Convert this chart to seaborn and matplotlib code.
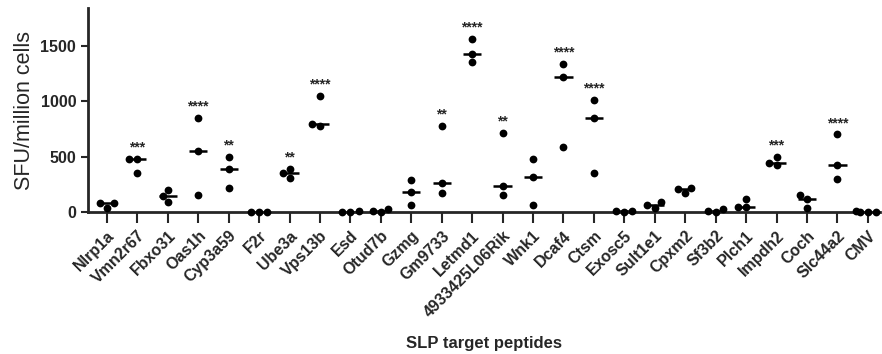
import numpy as np
import pandas as pd
import matplotlib
matplotlib.use('Agg')
import matplotlib.pyplot as plt
import seaborn as sns

peptides = ['Nlrp1a', 'Vmn2r67', 'Fbxo31', 'Oas1h', 'Cyp3a59', 'F2r', 'Ube3a',
            'Vps13b', 'Esd', 'Otud7b', 'Gzmg', 'Gm9733', 'Letmd1', '4933425L06Rik',
            'Wnk1', 'Dcaf4', 'Ctsm', 'Exosc5', 'Sult1e1', 'Cpxm2', 'Sf3b2', 'Plch1',
            'Impdh2', 'Coch', 'Slc44a2', 'CMV']

# SFU per million cells, replicate wells per peptide
sfu = [
    [40, 80, 80],        # Nlrp1a
    [480, 480, 350],     # Vmn2r67
    [200, 90, 145],      # Fbxo31
    [850, 550, 155],     # Oas1h
    [495, 390, 215],     # Cyp3a59
    [0, 0, 0],           # F2r
    [305, 385, 350],     # Ube3a
    [1050, 775, 795],    # Vps13b
    [0, 5, 3],           # Esd
    [0, 25, 5],          # Otud7b
    [285, 183, 63],      # Gzmg
    [780, 260, 170],     # Gm9733
    [1565, 1355, 1425],  # Letmd1
    [715, 237, 156],     # 4933425L06Rik
    [477, 312, 63],      # Wnk1
    [1340, 1220, 590],   # Dcaf4
    [1015, 845, 350],    # Ctsm
    [0, 8, 5],           # Exosc5
    [40, 90, 65],        # Sult1e1
    [170, 220, 207],     # Cpxm2
    [0, 25, 8],          # Sf3b2
    [115, 42, 45],       # Plch1
    [500, 425, 440],     # Impdh2
    [155, 117, 33],      # Coch
    [700, 425, 300],     # Slc44a2
    [0, 2, 5, 0],        # CMV
]

signif = {'Vmn2r67': '***', 'Oas1h': '****', 'Cyp3a59': '**', 'Ube3a': '**',
          'Vps13b': '****', 'Gm9733': '**', 'Letmd1': '****',
          '4933425L06Rik': '**', 'Dcaf4': '****', 'Ctsm': '****',
          'Impdh2': '***', 'Slc44a2': '****'}

rows = [(p, v) for p, vals in zip(peptides, sfu) for v in vals]
df = pd.DataFrame(rows, columns=['peptide', 'sfu'])

sns.set_style('ticks')
plt.rcParams['font.family'] = ['Liberation Sans', 'DejaVu Sans']

fig = plt.figure(figsize=(8.82, 3.54), dpi=100)
ax = fig.add_axes([0.0998, 0.401, 0.898, 0.576])

sns.boxplot(data=df, x='peptide', y='sfu', order=peptides, ax=ax,
            showbox=False, showcaps=False, showfliers=False,
            whiskerprops={'visible': False}, width=0.6,
            medianprops={'color': 'black', 'linewidth': 1.8})
sns.swarmplot(data=df, x='peptide', y='sfu', order=peptides, ax=ax,
              color='black', size=5.6, clip_on=False)
for c in ax.collections:
    c.set_clip_on(False)

for i, p in enumerate(peptides):
    if p in signif:
        top = max(sfu[i])
        ax.text(i, top + 40, signif[p], ha='center', va='bottom',
                fontsize=10, fontweight='bold')

ax.set_xlim(-0.62, 25.4)
ax.set_ylim(0, 1840)
ax.set_yticks([0, 500, 1000, 1500])
ax.set_ylabel('SFU/million cells', fontsize=15.5, labelpad=4)
ax.set_xlabel('SLP target peptides', fontsize=12, fontweight='bold', labelpad=11)
ax.set_xticks(range(len(peptides)))
ax.set_xticklabels(peptides, rotation=45, ha='right', rotation_mode='anchor',
                   fontsize=11.5, fontweight='bold')
for lab in ax.get_yticklabels():
    lab.set_fontweight('bold')
    lab.set_fontsize(11.5)
ax.tick_params(axis='x', length=8, width=1.5)
ax.tick_params(axis='y', length=5, width=1.5)
for s in ['left', 'bottom']:
    ax.spines[s].set_linewidth(2)
sns.despine(ax=ax)

fig.savefig('out.png', dpi=100)
